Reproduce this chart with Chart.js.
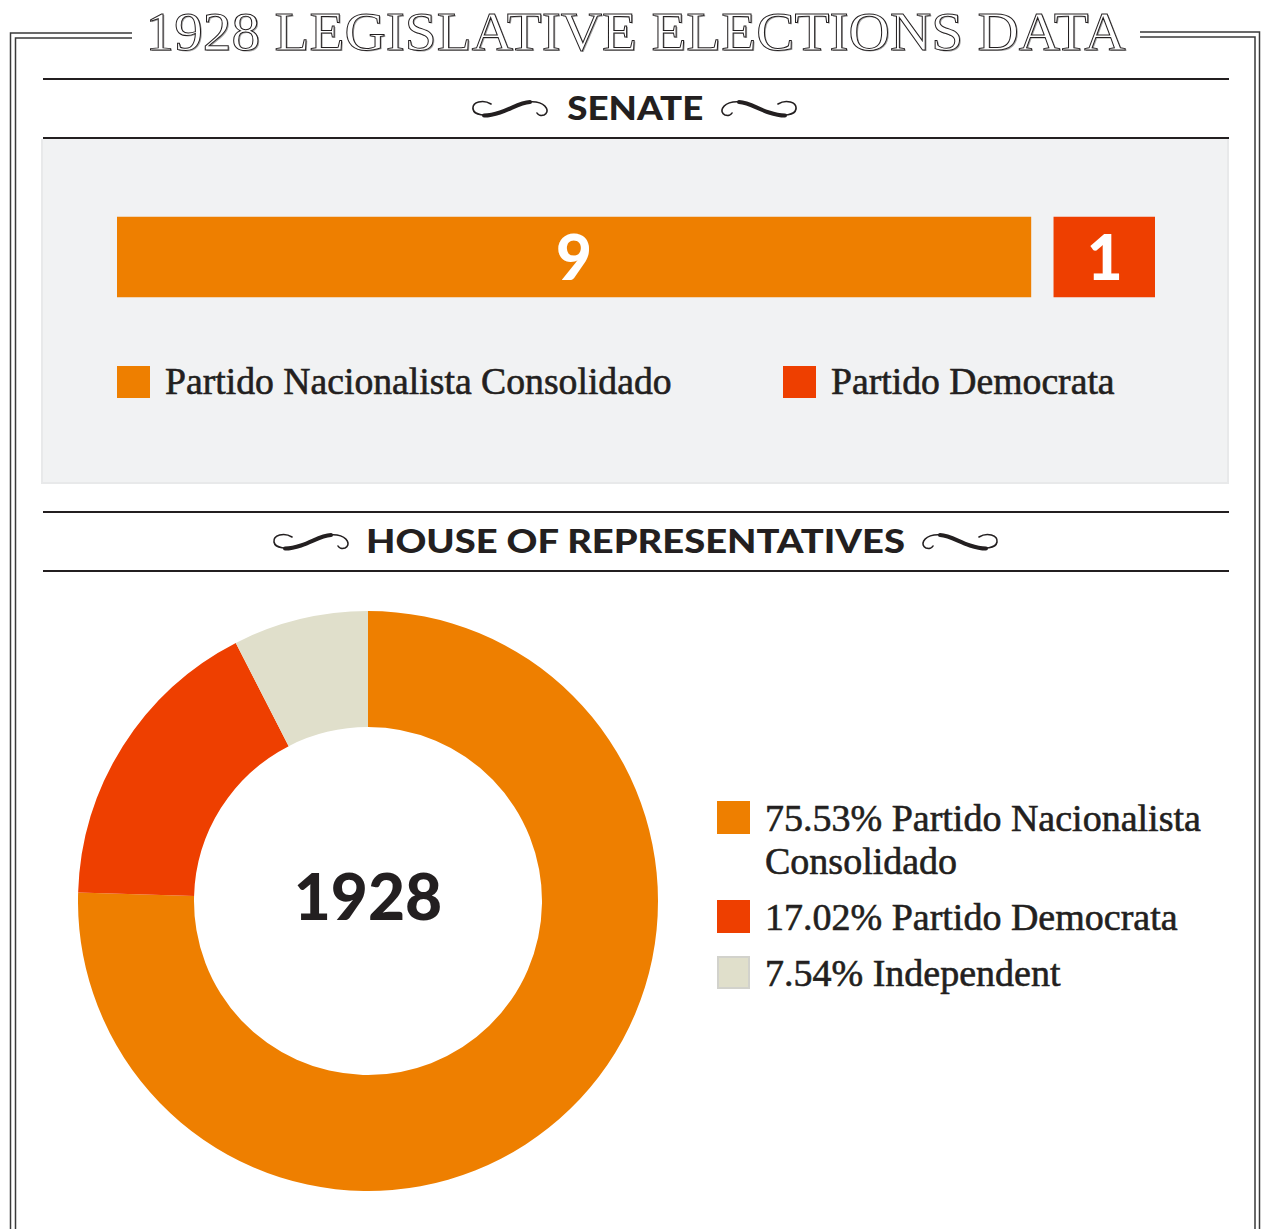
<!DOCTYPE html>
<html>
<head>
<meta charset="utf-8">
<script src="https://cdn.jsdelivr.net/npm/chart.js@4.4.1/dist/chart.umd.min.js"></script>
<style>
  html, body { margin: 0; padding: 0; background: #fff; }
  body { width: 1261px; height: 1229px; position: relative; overflow: hidden; color: #231f20; }
  .abs { position: absolute; }
  #frame { left: 0; top: 0; }
  .title {
    top: 2px; left: 5px; width: 1261px; text-align: center; white-space: nowrap;
    font-family: "Liberation Serif", serif; font-size: 55px; line-height: 60px;
    color: #fff; -webkit-text-stroke: 1px #231f20;
    text-shadow: 1.2px 1.2px 0 #a8a8a8;
  }
  .title span { display: inline-block; transform-origin: center; }
  .rule { left: 43px; width: 1186px; height: 2px; background: #231f20; }
  .head {
    left: 5px; width: 1261px; text-align: center; white-space: nowrap;
    font-family: Lato, "DejaVu Sans", sans-serif; font-weight: 900; font-size: 32px; line-height: 36px;
  }
  .head span { display: inline-block; transform-origin: center; }
  #senateBox { left: 41px; top: 139px; width: 1184px; height: 343px; background: #f1f2f3; border: 2px solid #e8e9ea; border-top: none; }
  #senateWrap { left: 117px; top: 207px; width: 1038px; height: 100px; }
  #houseWrap { left: 78px; top: 611px; width: 580px; height: 580px; }
  .serif { font-family: "Liberation Serif", serif; font-size: 37.7px; color: #231f20; -webkit-text-stroke: 0.6px #231f20; }
  #senateLegend { left: 117px; top: 361px; display: flex; }
  #senateLegend .item { display: flex; align-items: flex-start; width: 666px; }
  #senateLegend .item:last-child { width: auto; }
  .sw { width: 33px; height: 32px; flex: none; box-sizing: border-box; }
  #senateLegend .sw { margin-top: 5px; margin-right: 15px; }
  #senateLegend .txt { line-height: 40px; white-space: nowrap; }
  #houseLegend { left: 717px; top: 797px; width: 520px; font-size: 38px; }
  #houseLegend .item { display: flex; align-items: flex-start; margin-bottom: 13px; }
  #houseLegend .sw { margin-top: 4px; margin-right: 15px; width: 33px; height: 33px; }
  #houseLegend .txt { line-height: 43px; width: 460px; }
  #center {
    left: 78px; top: 605px; width: 580px; height: 580px; display: flex; align-items: center; justify-content: center;
    font-family: Lato, "DejaVu Sans", sans-serif; font-weight: 900; font-size: 64px; color: #231f20;
  }
</style>
</head>
<body>

<svg id="frame" class="abs" width="1261" height="1229">
  <defs>
    <g id="swirl">
      <path d="M21 5 C13 0, 2 3, 3 10 C4 16, 15 18, 28 14 C42 10, 52 1, 66 3 C77 5, 80 13, 74 16 C71 17, 68 16, 67 14"
            fill="none" stroke="#231f20" stroke-width="1.6" stroke-linecap="round"/>
      <path d="M14 16.5 C20 16.5, 24 15.5, 30 13.5 C42 9.5, 50 3.5, 60 3"
            fill="none" stroke="#231f20" stroke-width="4" stroke-linecap="round"/>
    </g>
  </defs>
  <g fill="none" stroke="#3a3a3a" stroke-width="1.5">
    <polyline points="132,33 10.5,33 10.5,1229"/>
    <polyline points="132,38 15.5,38 15.5,1229"/>
    <polyline points="1140,32 1259.5,32 1259.5,1229"/>
    <polyline points="1140,37 1255,37 1255,1229"/>
  </g>
  <use href="#swirl" x="470" y="99"/>
  <use href="#swirl" transform="translate(799,99) scale(-1,1)"/>
  <use href="#swirl" x="271" y="532"/>
  <use href="#swirl" transform="translate(1000,532) scale(-1,1)"/>
</svg>

<div class="abs title"><span id="titleText" data-w="980">1928 LEGISLATIVE ELECTIONS DATA</span></div>

<div class="abs rule" style="top:78px"></div>
<div class="abs head" style="top:90px"><span id="senateHead" data-w="136">SENATE</span></div>
<div class="abs rule" style="top:137px"></div>

<div id="senateBox" class="abs"></div>
<div id="senateWrap" class="abs"><canvas id="senateChart"></canvas></div>
<div id="senateLegend" class="abs serif"></div>

<div class="abs rule" style="top:511px"></div>
<div class="abs head" style="top:523px"><span id="houseHead" data-w="539">HOUSE OF REPRESENTATIVES</span></div>
<div class="abs rule" style="top:570px"></div>

<div id="houseWrap" class="abs"><canvas id="houseChart"></canvas></div>
<div id="center" class="abs">1928</div>
<div id="houseLegend" class="abs serif"></div>

<script>
// Dados do Senado
const senadoPartidos = ["Partido Nacionalista Consolidado", "Partido Democrata"];
const senadoCadeiras = [9, 1];
const senadoCores = ["#ee7f00", "#ee3f00"];

// Dados da Câmara
const camaraPartidos = ["Partido Nacionalista Consolidado", "Partido Democrata", "Independent"];
const camaraPercentuais = [75.53, 17.02, 7.54];
const camaraCores = ["#ee7f00", "#ee3f00", "#e0dfcb"];
const anoEleicao = "1928";

// ajusta largura dos textos de cabeçalho
document.querySelectorAll("[data-w]").forEach((el) => {
  const alvo = parseFloat(el.dataset.w);
  const w = el.getBoundingClientRect().width;
  el.style.transform = `scaleX(${alvo / w})`;
});

// Plugin: separa a segunda barra da primeira
const gapPlugin = {
  id: "gapPlugin",
  afterDatasetsUpdate(chart, args, opts) {
    const meta = chart.getDatasetMeta(1);
    meta.data.forEach((bar) => {
      bar.x += opts.gap;
      bar.base += opts.gap;
    });
  },
};

// Plugin: rótulos dentro das barras
const rotulosPlugin = {
  id: "rotulosPlugin",
  afterDatasetsDraw(chart) {
    const ctx = chart.ctx;
    ctx.save();
    ctx.fillStyle = "#fff";
    ctx.font = "900 62px Lato, 'DejaVu Sans', sans-serif";
    ctx.textAlign = "center";
    ctx.textBaseline = "middle";
    chart.data.datasets.forEach((ds, i) => {
      chart.getDatasetMeta(i).data.forEach((bar, j) => {
        const p = bar.getCenterPoint();
        ctx.fillText(String(ds.data[j]), p.x, p.y + 3);
      });
    });
    ctx.restore();
  },
};

new Chart(document.getElementById("senateChart"), {
  type: "bar",
  data: {
    labels: ["Senate"],
    datasets: senadoPartidos.map((nome, i) => ({
      label: nome,
      data: [senadoCadeiras[i]],
      backgroundColor: senadoCores[i],
      borderWidth: 0,
      barThickness: 80,
      clip: false,
    })),
  },
  options: {
    indexAxis: "y",
    responsive: true,
    maintainAspectRatio: false,
    animation: false,
    layout: { padding: { left: 0, right: 22.6, top: 0, bottom: 0 } },
    scales: {
      x: { stacked: true, min: 0, max: 10, display: false },
      y: { stacked: true, display: false },
    },
    plugins: {
      legend: { display: false },
      tooltip: { enabled: false },
      gapPlugin: { gap: 23 },
    },
  },
  plugins: [gapPlugin, rotulosPlugin],
});

new Chart(document.getElementById("houseChart"), {
  type: "doughnut",
  data: {
    labels: camaraPartidos,
    datasets: [
      {
        data: camaraPercentuais,
        backgroundColor: camaraCores,
        borderWidth: 0,
      },
    ],
  },
  options: {
    responsive: true,
    maintainAspectRatio: false,
    animation: false,
    cutout: "60%",
    layout: { padding: 0 },
    plugins: {
      legend: { display: false },
      tooltip: { enabled: false },
    },
  },
});

// Legendas
const legSenado = document.getElementById("senateLegend");
senadoPartidos.forEach((nome, i) => {
  const item = document.createElement("div");
  item.className = "item";
  item.innerHTML = `<div class="sw" style="background:${senadoCores[i]}"></div><div class="txt">${nome}</div>`;
  legSenado.appendChild(item);
});

const legCamara = document.getElementById("houseLegend");
camaraPartidos.forEach((nome, i) => {
  const item = document.createElement("div");
  item.className = "item";
  const borda = i === 2 ? "border:2px solid #d2d2cc;" : "";
  item.innerHTML = `<div class="sw" style="background:${camaraCores[i]};${borda}"></div><div class="txt">${camaraPercentuais[i].toFixed(2)}% ${nome}</div>`;
  legCamara.appendChild(item);
});
document.getElementById("center").textContent = anoEleicao;
</script>
</body>
</html>
